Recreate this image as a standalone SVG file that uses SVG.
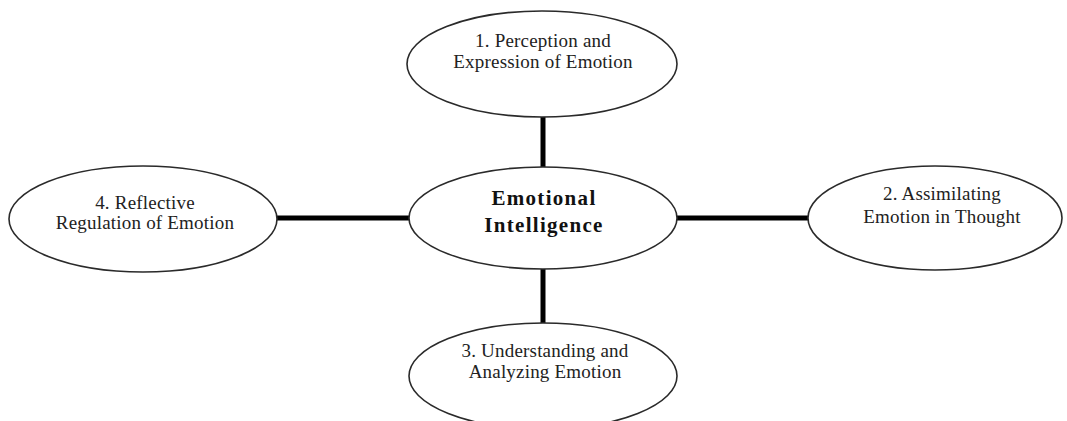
<svg xmlns="http://www.w3.org/2000/svg" width="1067" height="421" viewBox="0 0 1067 421">
<style>
.node ellipse{fill:#ffffff;stroke:#2a2a2a;stroke-width:1.6}
.lbl{font-family:"Liberation Serif","Times New Roman",serif;font-size:19px;fill:#222;text-anchor:middle;letter-spacing:0.2px}
.main{font-family:"Liberation Serif","Times New Roman",serif;font-size:21px;font-weight:bold;fill:#111;text-anchor:middle;letter-spacing:1.3px}
.conn line{stroke:#000;stroke-width:5}
</style>
<rect width="1067" height="421" fill="#ffffff"/>
<g id="connectors" class="conn">
<line x1="543" y1="116" x2="543" y2="167"/>
<line x1="543" y1="269" x2="543" y2="324"/>
<line x1="276" y1="218" x2="410" y2="218"/>
<line x1="677" y1="218" x2="808" y2="218"/>
</g>
<g id="node-top" class="node">
<ellipse cx="542" cy="64" rx="135" ry="53"/>
<text class="lbl" x="543" y="47">1. Perception and</text>
<text class="lbl" x="543" y="68">Expression of Emotion</text>
</g>
<g id="node-center" class="node">
<ellipse cx="543" cy="218" rx="134" ry="51"/>
<text class="main" x="544" y="205">Emotional</text>
<text class="main" x="544" y="232">Intelligence</text>
</g>
<g id="node-left" class="node">
<ellipse cx="143" cy="219" rx="134" ry="53"/>
<text class="lbl" x="145" y="209">4. Reflective</text>
<text class="lbl" x="145" y="229">Regulation of Emotion</text>
</g>
<g id="node-right" class="node">
<ellipse cx="935" cy="218" rx="127" ry="52"/>
<text class="lbl" x="942" y="200">2. Assimilating</text>
<text class="lbl" x="942" y="223">Emotion in Thought</text>
</g>
<g id="node-bottom" class="node">
<ellipse cx="543" cy="376" rx="134" ry="53"/>
<text class="lbl" x="545" y="357">3. Understanding and</text>
<text class="lbl" x="545" y="378">Analyzing Emotion</text>
</g>
</svg>
